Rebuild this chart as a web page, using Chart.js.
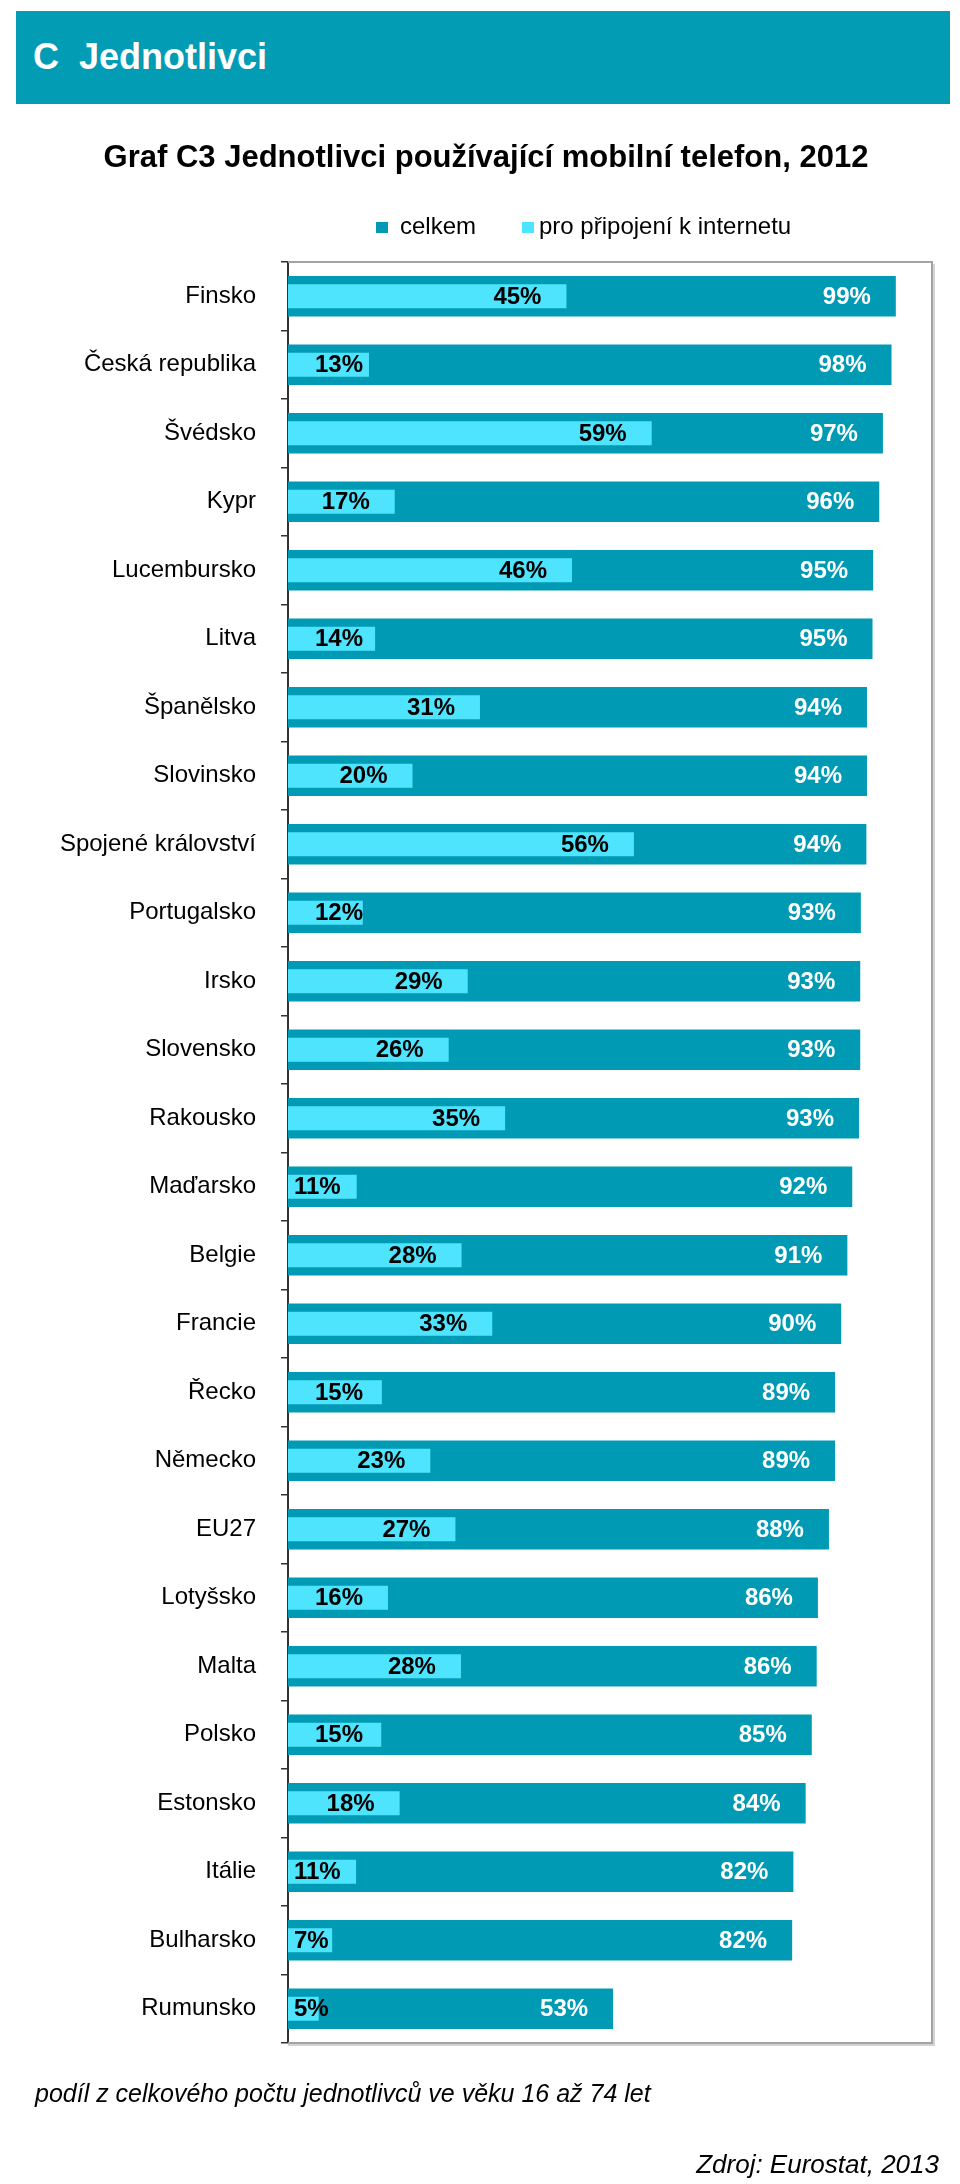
<!DOCTYPE html>
<html lang="cs">
<head>
<meta charset="utf-8">
<script src="https://cdn.jsdelivr.net/npm/chart.js@4/dist/chart.umd.min.js"></script>
<style>
    body { margin: 0; background: #fff; font-family: "Liberation Sans", Arial, sans-serif; }
    #wrap { position: relative; width: 960px; height: 2184px; overflow: hidden; }
    #chart { position: absolute; left: 0; top: 0; }
    .txt { position: absolute; white-space: nowrap; line-height: 1; }
    #band { position: absolute; left: 16px; top: 11px; width: 934px; height: 93px; background: #029cb5; }
    .head { color: #fff; font-weight: bold; font-size: 36px; top: 39px; }
    #title { left: 0; width: 972px; text-align: center; font-weight: bold; font-size: 31px; top: 141px; color: #000; }
    #note { left: 35px; top: 2081px; font-size: 25px; font-style: italic; color: #000; }
    #source { right: 21px; top: 2151px; font-size: 26px; font-style: italic; color: #000; }
</style>
</head>
<body>
<div id="wrap">
    <canvas id="chart" width="960" height="2184"></canvas>
    <div id="band"></div>
    <div class="txt head" style="left:33px">C</div>
    <div class="txt head" style="left:79px">Jednotlivci</div>
    <div class="txt" id="title">Graf C3 Jednotlivci používající mobilní telefon, 2012</div>
    <div class="txt" id="note">podíl z celkového počtu jednotlivců ve věku 16 až 74 let</div>
    <div class="txt" id="source">Zdroj: Eurostat, 2013</div>
</div>
<script>
const countries = ['Finsko', 'Česká republika', 'Švédsko', 'Kypr', 'Lucembursko', 'Litva', 'Španělsko',
    'Slovinsko', 'Spojené království', 'Portugalsko', 'Irsko', 'Slovensko', 'Rakousko', 'Maďarsko',
    'Belgie', 'Francie', 'Řecko', 'Německo', 'EU27', 'Lotyšsko', 'Malta', 'Polsko', 'Estonsko',
    'Itálie', 'Bulharsko', 'Rumunsko'];
// values, labels show them rounded
const celkem = [99.1, 98.4, 97.0, 96.4, 95.4, 95.3, 94.4, 94.4, 94.3, 93.4, 93.3, 93.3, 93.1, 92.0, 91.2,
    90.2, 89.2, 89.2, 88.2, 86.4, 86.2, 85.4, 84.4, 82.4, 82.2, 53.0];
const internet = [45.4, 13.2, 59.3, 17.4, 46.3, 14.2, 31.3, 20.3, 56.4, 12.2, 29.3, 26.2, 35.4, 11.2, 28.3,
    33.3, 15.3, 23.2, 27.3, 16.3, 28.2, 15.2, 18.2, 11.1, 7.2, 5.0];
const seriesNames = ['celkem', 'pro připojení k internetu'];

const FONT = '"Liberation Sans", Arial, sans-serif';
const DARK = '#019ab5';
const LIGHT = '#4fe4fd';

// grey frame around plot area (top, right, bottom)
const frame = {
    id: 'frame',
    beforeDatasetsDraw(chart) {
        const { ctx, chartArea: a } = chart;
        ctx.save();
        ctx.strokeStyle = '#d4d4d4';
        ctx.lineWidth = 2;
        ctx.beginPath();
        ctx.moveTo(a.right + 2, a.top + 2);
        ctx.lineTo(a.right + 2, a.bottom + 2);
        ctx.lineTo(a.left, a.bottom + 2);
        ctx.stroke();
        ctx.strokeStyle = '#a3a3a3';
        ctx.beginPath();
        ctx.moveTo(a.left, a.top);
        ctx.lineTo(a.right, a.top);
        ctx.lineTo(a.right, a.bottom);
        ctx.lineTo(a.left, a.bottom);
        ctx.stroke();
        ctx.restore();
    }
}

// legend like the original (square + text)
const legendBox = {
    id: 'legendBox',
    afterDraw(chart) {
        const ctx = chart.ctx;
        ctx.save();
        ctx.font = '24px ' + FONT;
        ctx.textBaseline = 'alphabetic';
        ctx.fillStyle = DARK;
        ctx.fillRect(376, 222, 12, 11);
        ctx.fillStyle = '#000';
        ctx.fillText(seriesNames[0], 400, 234);
        ctx.fillStyle = LIGHT;
        ctx.fillRect(522, 222, 12, 11);
        ctx.fillStyle = '#000';
        ctx.fillText(seriesNames[1], 539, 234);
        ctx.restore();
    }
}

// value labels inside the bars
const valueLabels = {
    id: 'valueLabels',
    afterDatasetsDraw(chart) {
        const ctx = chart.ctx;
        ctx.save();
        ctx.font = 'bold 24px ' + FONT;
        ctx.textBaseline = 'middle';
        ctx.textAlign = 'left';
        chart.data.datasets.forEach((ds, i) => {
            const meta = chart.getDatasetMeta(i);
            meta.data.forEach((bar, j) => {
                const txt = Math.round(ds.data[j]) + '%';
                const w = ctx.measureText(txt).width;
                let x;
                if (ds.label === seriesNames[0]) {
                    ctx.fillStyle = '#fff';
                    x = bar.x - 25 - w;
                } else {
                    ctx.fillStyle = '#000';
                    if (bar.x - bar.base < w + 24) x = bar.base + 6;
                    else x = Math.max(bar.base + 27, bar.x - 25 - w);
                }
                ctx.fillText(txt, x, bar.y + 1);
            });
        });
        ctx.restore();
    }
}

new Chart(document.getElementById('chart'), {
    type: 'bar',
    data: {
        labels: countries,
        datasets: [{
            label: seriesNames[0],
            data: celkem,
            backgroundColor: DARK,
            barPercentage: 0.59,
            categoryPercentage: 1,
            grouped: false,
            order: 2
        }, {
            label: seriesNames[1],
            data: internet,
            backgroundColor: LIGHT,
            barPercentage: 0.35,
            categoryPercentage: 1,
            grouped: false,
            order: 1
        }]
    },
    options: {
        indexAxis: 'y',
        responsive: false,
        animation: false,
        layout: { padding: { top: 262, bottom: 141, left: 0, right: 28 } },
        plugins: {
            legend: { display: false },
            tooltip: { enabled: false }
        },
        scales: {
            x: { display: false, min: 0, max: 105 },
            y: {
                afterFit(scale) { scale.width = 288; },
                grid: { drawOnChartArea: false, drawTicks: true, tickLength: 7, color: '#333', lineWidth: 1.5, offset: true },
                border: { display: true, color: '#333', width: 2 },
                ticks: { padding: 25, color: '#000', font: { size: 24, family: FONT } }
            }
        }
    },
    plugins: [frame, valueLabels, legendBox]
});
</script>
</body>
</html>
